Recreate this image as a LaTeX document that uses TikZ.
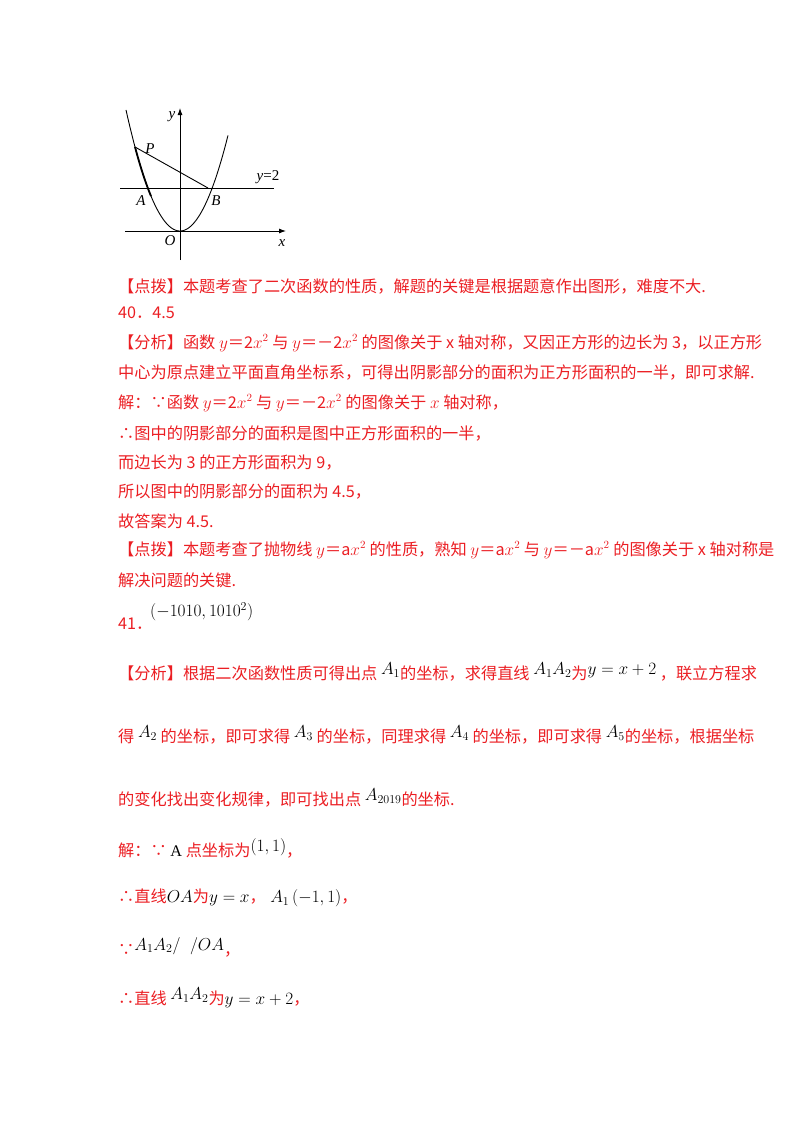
\documentclass[tikz,border=0pt]{standalone}
\usepackage{fontspec}
\setmainfont{Liberation Serif}
\newfontfamily\cjk{Noto Sans CJK SC}
\definecolor{rd}{RGB}{235,30,35}
\newcommand\mk[1]{\textcolor{black}{\fontsize{17}{19}\selectfont$#1$}}
\begin{document}
\begin{tikzpicture}[x=1pt,y=-1pt,
 tx/.style={anchor=west,inner sep=0pt,text=rd,font=\cjk\fontsize{16.2}{18}\selectfont},
 lb/.style={inner sep=0pt,font=\fontsize{15}{17}\selectfont\itshape},
 ax/.style={line width=0.9pt,-{Latex[length=7pt,width=5pt]}}]
\usetikzlibrary{arrows.meta}
\useasboundingbox (0,0) rectangle (800,1132);
% diagram
\coordinate (xs) at (125,231); \coordinate (xe) at (286,231);
\coordinate (ys) at (180,260); \coordinate (ye) at (180,108);
\draw[ax] (xs) -- (xe);
\draw[ax] (ys) -- (ye);
\draw[line width=0.9pt] (120,188) -- (274,188);
\draw[line width=0.9pt,domain=-54:48,samples=80] plot ({180+\x},{231-0.0415*\x*\x});
\coordinate (P) at (135,147);
\coordinate (B) at (208,188);
\draw[line width=0.9pt] (P) -- (B);
\draw[line width=1.8pt,domain=-45:-29,samples=20] plot ({180+\x},{231-0.0415*\x*\x});
\node[lb] (ly) at (172,117) {y};
\node[lb] (lP) at (150,149) {P};
\node[lb,font=\fontsize{15}{17}\selectfont] (l2) at (268,177) {\textit{y}=2};
\node[lb] (lA) at (141,201) {A};
\node[lb] (lB) at (216,201) {B};
\node[lb] (lO) at (170,241) {O};
\node[lb] (lx) at (282,243) {x};
% text
\node[tx] (t1) at (118,286) {【点拨】本题考查了二次函数的性质，解题的关键是根据题意作出图形，难度不大.};
\node[tx] (t2) at (118,313) {40．4.5};
\node[tx] (t3) at (118,343) {【分析】函数 $y$＝2$x^2$ 与 $y$＝－2$x^2$ 的图像关于 x 轴对称，又因正方形的边长为 3，以正方形};
\node[tx] (t4) at (118,373) {中心为原点建立平面直角坐标系，可得出阴影部分的面积为正方形面积的一半，即可求解.};
\node[tx] (t5) at (118,403) {解：∵函数 $y$＝2$x^2$ 与 $y$＝－2$x^2$ 的图像关于 $x$ 轴对称，};
\node[tx] (t6) at (118,434) {∴图中的阴影部分的面积是图中正方形面积的一半，};
\node[tx] (t7) at (118,463) {而边长为 3 的正方形面积为 9，};
\node[tx] (t8) at (118,492) {所以图中的阴影部分的面积为 4.5，};
\node[tx] (t9) at (118,521) {故答案为 4.5.};
\node[tx] (t10) at (118,550) {【点拨】本题考查了抛物线 $y$＝a$x^2$ 的性质，熟知 $y$＝a$x^2$ 与 $y$＝－a$x^2$ 的图像关于 x 轴对称是};
\node[tx] (t11) at (118,580) {解决问题的关键.};
\node[tx] (t12) at (118,624) {41．};
\node[tx] (t12b) at (150,612) {\mk{(-1010,1010^2)}};
\node[tx] (t13) at (118,672) {【分析】根据二次函数性质可得出点 \raisebox{5pt}{\mk{A_1}}的坐标，求得直线 \raisebox{5pt}{\mk{A_1A_2}}为\raisebox{5pt}{\mk{y=x+2}} ，联立方程求};
\node[tx] (t14) at (118,735) {得 \raisebox{5pt}{\mk{A_2}} 的坐标，即可求得 \raisebox{5pt}{\mk{A_3}} 的坐标，同理求得 \raisebox{5pt}{\mk{A_4}} 的坐标，即可求得 \raisebox{5pt}{\mk{A_5}}的坐标，根据坐标};
\node[tx] (t15) at (118,798) {的变化找出变化规律，即可找出点 \raisebox{5pt}{\mk{A_{2019}}}的坐标.};
\node[tx] (t16) at (118,848) {解：∵ \textcolor{black}{\rmfamily A} 点坐标为\raisebox{5pt}{\mk{(1,1)}}，};
\node[tx] (t17) at (118,898) {∴直线\mk{OA}为\mk{y=x}，\;\mk{A_1\left(-1,1\right)}，};
\node[tx] (t18) at (118,947) {∵\raisebox{5pt}{\mk{A_1A_2/\;\;/OA}}，};
\node[tx] (t19) at (118,998) {∴直线 \raisebox{5pt}{\mk{A_1A_2}}为\mk{y=x+2}，};
\end{tikzpicture}
\end{document}
